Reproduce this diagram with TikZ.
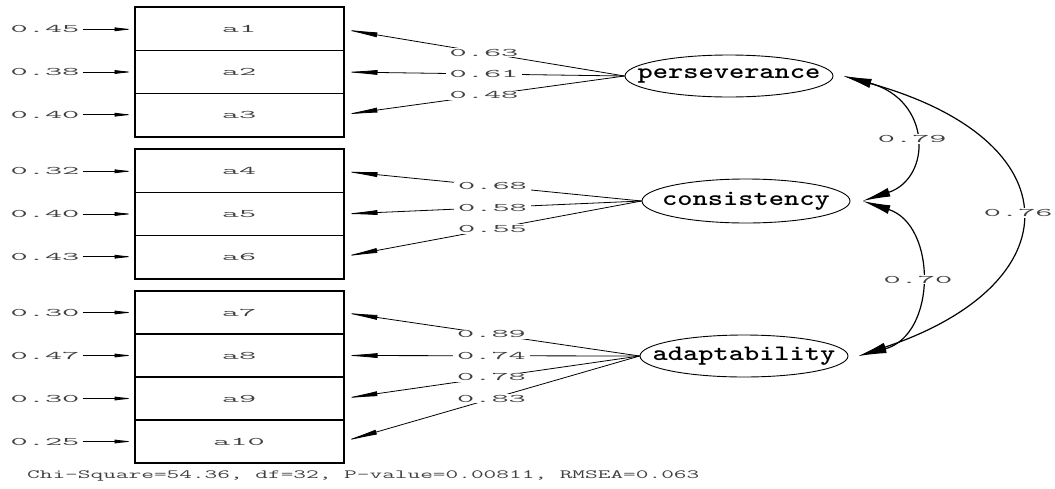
\documentclass[tikz,border=0pt]{standalone}
\usepackage{fontspec}
\usepackage{graphicx}
\usetikzlibrary{arrows.meta,shapes.geometric}
\definecolor{numgray}{HTML}{404040}
\newcommand\numtxt[1]{\scalebox{2.9}[1]{\ttfamily\fontsize{11.5}{11.5}\selectfont #1}}
\newcommand\bottxt[1]{\scalebox{1.97}[1]{\ttfamily\fontsize{12.5}{12.5}\selectfont #1}}
\newcommand\lattxt[1]{\makebox[0pt]{\scalebox{1.32}[1]{\ttfamily\bfseries\fontsize{22}{22}\selectfont #1}}}
\tikzset{
  item/.style={draw, line width=1pt, minimum width=208pt, minimum height=42.7pt, inner sep=0pt, text=numgray},
  grp/.style={draw, line width=2pt},
  lat/.style={draw, ellipse, line width=0.9pt, minimum width=208pt, minimum height=42pt, inner sep=0pt},
  errlbl/.style={inner xsep=3pt, inner ysep=1pt, text=numgray},
  ld/.style={line width=0.8pt, -{Latex[length=34pt,width=5pt]}},
  err/.style={line width=0.8pt, -{Latex[length=20pt,width=4pt]}},
  cov/.style={line width=1.2pt, {Latex[length=28pt,width=9pt]}-{Latex[length=28pt,width=9pt]}},
  lbl/.style={fill=white, inner xsep=4pt, inner ysep=1pt, text=numgray}
}
\begin{document}
\begin{tikzpicture}[x=1pt,y=-1pt]
\useasboundingbox (0,0) rectangle (1055,488);
% items
\node[item] (a1) at (239,29.3) {\numtxt{a1}};
\node[item] (a2) at (239,72) {\numtxt{a2}};
\node[item] (a3) at (239,114.7) {\numtxt{a3}};
\node[item] (a4) at (239,171.3) {\numtxt{a4}};
\node[item] (a5) at (239,214) {\numtxt{a5}};
\node[item] (a6) at (239,256.7) {\numtxt{a6}};
\node[item] (a7) at (239,312.5) {\numtxt{a7}};
\node[item] (a8) at (239,355.5) {\numtxt{a8}};
\node[item] (a9) at (239,398.5) {\numtxt{a9}};
\node[item] (a10) at (239,441.5) {\numtxt{a10}};
\draw[grp] (a1.north west) rectangle (a3.south east);
\draw[grp] (a4.north west) rectangle (a6.south east);
\draw[grp] (a7.north west) rectangle (a10.south east);
% error variances
\node[errlbl] (e1) at (45,29.3) {\numtxt{0.45}};
\node[errlbl] (e2) at (45,72) {\numtxt{0.38}};
\node[errlbl] (e3) at (45,114.7) {\numtxt{0.40}};
\node[errlbl] (e4) at (45,171.3) {\numtxt{0.32}};
\node[errlbl] (e5) at (45,214) {\numtxt{0.40}};
\node[errlbl] (e6) at (45,256.7) {\numtxt{0.43}};
\node[errlbl] (e7) at (45,312.5) {\numtxt{0.30}};
\node[errlbl] (e8) at (45,355.5) {\numtxt{0.47}};
\node[errlbl] (e9) at (45,398.5) {\numtxt{0.30}};
\node[errlbl] (e10) at (45,441.5) {\numtxt{0.25}};
\foreach \i in {1,...,10} { \draw[err] (e\i) -- (a\i); }
% latent variables
\node[lat] (per) at (729,76) {\lattxt{perseverance}};
\node[lat, minimum height=44pt] (con) at (746,201) {\lattxt{consistency}};
\node[lat] (ada) at (744,356) {\lattxt{adaptability}};
% loadings
\draw[ld] (per.west) -- node[lbl]{\numtxt{0.63}} (a1.east);
\draw[ld] (per.west) -- node[lbl]{\numtxt{0.61}} (a2.east);
\draw[ld] (per.west) -- node[lbl]{\numtxt{0.48}} (a3.east);
\draw[ld] (con.west) -- node[lbl]{\numtxt{0.68}} (a4.east);
\draw[ld] (con.west) -- node[lbl]{\numtxt{0.58}} (a5.east);
\draw[ld] (con.west) -- node[lbl]{\numtxt{0.55}} (a6.east);
\draw[ld] (ada.west) -- node[lbl]{\numtxt{0.89}} (a7.east);
\draw[ld] (ada.west) -- node[lbl]{\numtxt{0.74}} (a8.east);
\draw[ld] (ada.west) -- node[lbl]{\numtxt{0.78}} (a9.east);
\draw[ld] (ada.west) -- node[lbl]{\numtxt{0.83}} (a10.east);
% covariances
\coordinate (perR) at ([xshift=10pt]per.east);
\coordinate (conR) at ([xshift=12pt]con.east);
\coordinate (adaR) at ([xshift=10pt]ada.east);
\draw[cov] (perR) .. controls (932,100) and (932,178) .. (conR) node[lbl,pos=0.5]{\numtxt{0.79}};
\draw[cov] (conR) .. controls (937,225) and (937,335) .. (adaR) node[lbl,pos=0.5]{\numtxt{0.70}};
\draw[cov] (perR) .. controls (1074,140) and (1074,284) .. (adaR) node[lbl,pos=0.5,inner xsep=1pt]{\numtxt{0.76}};
% fit statistics
\node[anchor=west, text=numgray, inner sep=0pt] (fit) at (27,476) {\bottxt{Chi-Square=54.36, df=32, P-value=0.00811, RMSEA=0.063}};
\end{tikzpicture}
\end{document}
